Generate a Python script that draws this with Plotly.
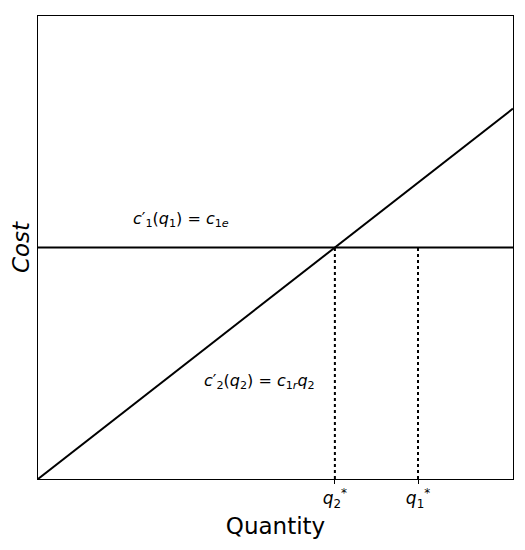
import plotly.graph_objects as go

# data
q_range = [0, 10]
cost_range = [0, 10]
c1e = 5.0
c1r = 0.8
q2_star = c1e / c1r
q1_star = 8.0
tick_vals = [q2_star, q1_star]
tick_text = ["<i>q</i><sub>2</sub><sup>*</sup>", "<i>q</i><sub>1</sub><sup>*</sup>"]
label1 = "<i>c</i>′<sub>1</sub>(<i>q</i><sub>1</sub>) = <i>c</i><sub>1<i>e</i></sub>"
label2 = "<i>c</i>′<sub>2</sub>(<i>q</i><sub>2</sub>) = <i>c</i><sub>1<i>r</i></sub><i>q</i><sub>2</sub>"
label1_pos = (3.0, 5.6)
label2_pos = (4.67, 2.1)

fig = go.Figure()
line_style = dict(color="black", width=2)
fig.add_trace(go.Scatter(x=q_range, y=[c1e, c1e], mode="lines", line=line_style, hoverinfo="skip"))
fig.add_trace(go.Scatter(x=q_range, y=[c1r * q for q in q_range], mode="lines", line=line_style, hoverinfo="skip"))
for q in tick_vals:
    fig.add_trace(go.Scatter(x=[q, q], y=[cost_range[0], c1e], mode="lines",
                             line=dict(color="black", width=2, dash="dot"), hoverinfo="skip"))

font = dict(family="DejaVu Sans", color="black")
fig.add_annotation(x=label1_pos[0], y=label1_pos[1], text=label1, showarrow=False,
                   font=dict(size=16, **font))
fig.add_annotation(x=label2_pos[0], y=label2_pos[1], text=label2, showarrow=False,
                   font=dict(size=16, **font))

fig.update_layout(
    width=525, height=550,
    margin=dict(l=30, r=20, t=8, b=79),
    showlegend=False,
    plot_bgcolor="white", paper_bgcolor="white",
    font=font,
)
fig.update_xaxes(range=q_range, showgrid=False, zeroline=False, showline=True, mirror=True,
                 linecolor="black", linewidth=1, ticks="outside", ticklen=4, tickcolor="black",
                 tickvals=tick_vals, ticktext=tick_text, tickfont=dict(size=17, **font),
                 title=dict(text="Quantity", font=dict(size=23, **font), standoff=7))
fig.update_yaxes(range=cost_range, showgrid=False, zeroline=False, showline=True, mirror=True,
                 linecolor="black", linewidth=1, showticklabels=False, ticks="",
                 title=dict(text="<i>Cost</i>", font=dict(size=23, **font), standoff=3))

fig.write_html("out.html")
